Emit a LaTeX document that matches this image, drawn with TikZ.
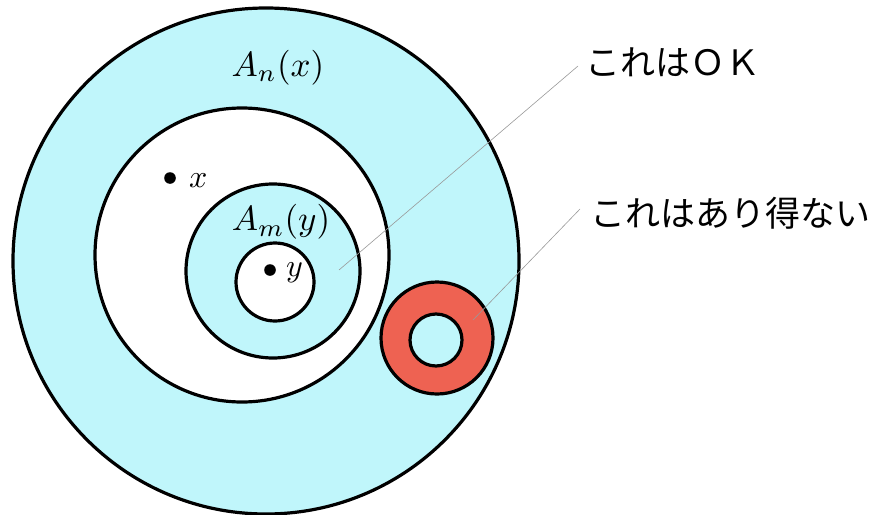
\documentclass[tikz,border=0pt]{standalone}
\usepackage{graphicx}
\usepackage{fontspec}
\newfontfamily\jpfont{Noto Sans CJK JP}
\definecolor{lcyan}{RGB}{192,246,251}
\definecolor{ringred}{RGB}{238,98,82}
\tikzset{
  ring/.style={draw=black, line width=3.2pt},
  leader/.style={draw=gray!80, line width=0.6pt},
  bigmath/.style={inner sep=0pt},
  smallmath/.style={inner sep=0pt, anchor=west},
  jptext/.style={font=\jpfont\fontsize{35}{40}\selectfont, inner sep=0pt, anchor=west},
  dotmark/.style={fill=black}
}
\begin{document}
\begin{tikzpicture}[x=1pt,y=-1pt]
\useasboundingbox (0,0) rectangle (882,514);
% outer disc
\path[ring, fill=lcyan] (266,261) circle[radius=253pt];
% white annulus region
\path[ring, fill=white] (242,255) circle[radius=147pt];
% A_m(y)
\path[ring, fill=lcyan] (273,271) circle[radius=87pt];
% innermost
\path[ring, fill=white] (275,282) circle[radius=39pt];
% red ring
\path[ring, fill=ringred] (437,338) circle[radius=56pt];
\path[ring, fill=lcyan] (436,340) circle[radius=26pt];
% points
\fill[dotmark] (170,178) circle[radius=5.8pt];
\node[smallmath] (xl) at (189,181) {\scalebox{3.2}{$x$}};
\fill[dotmark] (270,270) circle[radius=5.8pt];
\node[smallmath] (yl) at (286,273) {\scalebox{3.2}{$y$}};
% labels
\node[bigmath] (An) at (278,68) {\scalebox{3.5}{$A_n(x)$}};
\node[bigmath] (Am) at (281,222) {\scalebox{3.5}{$A_m(y)$}};
% right-hand labels
\node[jptext] (ok) at (585,62) {これはＯＫ};
\node[jptext] (ng) at (590,213) {これはあり得ない};
\coordinate (okin) at (339,270);
\coordinate (okout) at (578,66);
\coordinate (ngin) at (473,320);
\coordinate (ngout) at (580,209);
\draw[leader] (okin) -- (okout);
\draw[leader] (ngin) -- (ngout);
\end{tikzpicture}
\end{document}
